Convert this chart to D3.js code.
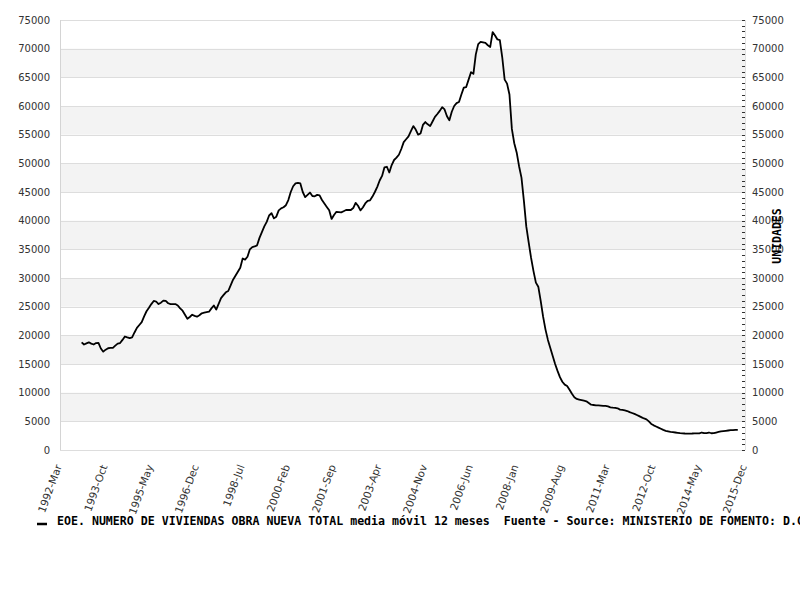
<!DOCTYPE html>
<html>
<head>
<meta charset="utf-8">
<script src="https://cdn.jsdelivr.net/npm/d3@7"></script>
<style>
  html, body { margin: 0; padding: 0; background: #fff; }
  svg { display: block; }
</style>
</head>
<body>
<svg id="chart" width="800" height="600"></svg>
<script>
// ---- data ----
const axisStart = "1992-03";   // first category on the x axis
const axisEnd = "2015-12";     // last category on the x axis
const seriesStart = "1992-12"; // first month with a value
const seriesName = "EOE. NUMERO DE VIVIENDAS OBRA NUEVA TOTAL media móvil 12 meses  Fuente - Source: MINISTERIO DE FOMENTO: D.G.";
const yAxisTitle = "UNIDADES";
const xTickLabels = ["1992-Mar","1993-Oct","1995-May","1996-Dec","1998-Jul","2000-Feb","2001-Sep","2003-Apr","2004-Nov","2006-Jun","2008-Jan","2009-Aug","2011-Mar","2012-Oct","2014-May","2015-Dec"];
const yTicks = [0,5000,10000,15000,20000,25000,30000,35000,40000,45000,50000,55000,60000,65000,70000,75000];
const values = [
  18780,18400,18600,18780,18550,18400,18650,18700,17700,17150,
  17500,17750,17800,17820,18200,18550,18650,19200,19800,19650,
  19530,19650,20500,21300,21800,22300,23300,24200,24800,25450,
  26000,25900,25450,25700,26050,26000,25600,25450,25450,25450,
  25200,24700,24300,23600,22900,23200,23600,23400,23250,23500,
  23850,23950,24050,24120,24700,25200,24500,25500,26500,27000,
  27500,27730,28700,29700,30400,31100,31800,33400,33200,33700,
  35000,35400,35500,35700,37000,38000,39000,39800,40900,41300,
  40400,40700,41800,42150,42350,42700,43600,45000,46000,46500,
  46600,46500,45000,44100,44500,44900,44300,44250,44500,44400,
  43600,43000,42400,41800,40300,41000,41550,41500,41450,41650,
  41860,41860,41860,42200,43100,42600,41800,42300,43000,43450,
  43550,44200,45000,45900,47000,47800,49300,49400,48400,49700,
  50580,51000,51500,52500,53700,54200,54700,55600,56500,55900,
  55000,55200,56700,57200,56800,56500,57300,58100,58600,59150,
  59800,59400,58200,57500,59000,60000,60500,60700,62000,63200,
  63300,64600,65900,65600,69000,70800,71200,71100,71000,70600,
  70300,72900,72300,71600,71500,68500,64600,63900,62000,56000,
  53500,51900,49500,47500,43500,39000,36200,33500,31200,29200,
  28480,26000,23250,21000,19200,17800,16400,15000,13800,12700,
  11900,11400,11160,10500,9800,9200,8900,8800,8700,8600,
  8500,8200,7900,7850,7800,7800,7750,7700,7680,7600,
  7450,7380,7350,7270,7050,7000,6900,6800,6600,6450,
  6300,6100,5900,5700,5500,5350,5000,4550,4300,4100,
  3900,3700,3500,3350,3250,3150,3100,3050,3000,2950,
  2910,2880,2870,2870,2880,2900,2900,2910,3050,2950,
  2950,3050,2920,2950,3050,3150,3250,3300,3350,3400,
  3450,3450,3500,3500
];

(function () {
// ---- layout ----
const mLeft = 60, mRight = 745, mTop = 20, mBottom = 450;
const svg = d3.select("#chart");
const parseMonth = d3.timeParse("%Y-%m");
const fmtCat = d3.timeFormat("%Y-%b");

const categories = d3.timeMonth.range(parseMonth(axisStart), d3.timeMonth.offset(parseMonth(axisEnd), 1)).map(fmtCat);
const s0 = parseMonth(seriesStart);
const points = values.map((v, i) => ({ cat: fmtCat(d3.timeMonth.offset(s0, i)), v }));

const x = d3.scalePoint().domain(categories).range([mLeft, mRight]);
const y = d3.scaleLinear().domain([0, 75000]).range([mBottom, mTop]);

// bands
const bandPairs = d3.pairs(yTicks).filter((p, i) => i % 2 === 1);
svg.append("g").selectAll("rect").data(bandPairs).join("rect")
  .attr("x", mLeft).attr("width", mRight - mLeft)
  .attr("y", d => y(d[1])).attr("height", d => y(d[0]) - y(d[1]))
  .attr("fill", "#f3f3f3");

// grid lines
svg.append("g").selectAll("line").data(yTicks).join("line")
  .attr("x1", mLeft).attr("x2", mRight)
  .attr("y1", d => Math.round(y(d)) + 0.5).attr("y2", d => Math.round(y(d)) + 0.5)
  .attr("stroke", "#dddddd").attr("stroke-width", 1);

// frame
svg.append("line").attr("x1", mLeft + 0.5).attr("x2", mLeft + 0.5).attr("y1", mTop).attr("y2", mBottom)
  .attr("stroke", "#d4d4d4");
svg.append("line").attr("x1", mRight + 0.5).attr("x2", mRight + 0.5).attr("y1", mTop).attr("y2", mBottom)
  .attr("stroke", "#e2e2e2");

// left axis labels
const leftAxis = d3.axisLeft(y).tickValues(yTicks).tickSize(0).tickPadding(10).tickFormat(d3.format("d"));
const gl = svg.append("g").attr("transform", `translate(${mLeft},0)`).call(leftAxis);
gl.select(".domain").remove();
gl.selectAll("text").attr("fill", "#333").style("font-family", "DejaVu Sans").style("font-size", "10px");

// right axis: major + minor ticks pointing inward
const minor = d3.range(0, 75001, 1000);
svg.append("g").selectAll("line").data(minor).join("line")
  .attr("x1", mRight - 3).attr("x2", mRight)
  .attr("y1", d => Math.round(y(d)) + 0.5).attr("y2", d => Math.round(y(d)) + 0.5)
  .attr("stroke", "#333").attr("stroke-width", 1);
const rightAxis = d3.axisRight(y).tickValues(yTicks).tickSize(0).tickPadding(7).tickFormat(d3.format("d"));
const gr = svg.append("g").attr("transform", `translate(${mRight},0)`).call(rightAxis);
gr.select(".domain").remove();
gr.selectAll("text").attr("fill", "#333").style("font-family", "DejaVu Sans").style("font-size", "10px");

// x axis labels
const xAxis = d3.axisBottom(x).tickValues(xTickLabels).tickSize(0).tickPadding(0);
const gx = svg.append("g").attr("transform", `translate(0,${mBottom})`).call(xAxis);
gx.select(".domain").remove();
gx.selectAll("text")
  .attr("fill", "#333").style("font-family", "DejaVu Sans").style("font-size", "10.5px")
  .attr("text-anchor", "end").attr("dy", "0.35em")
  .attr("transform", "translate(-2,15) rotate(-70)")
  .attr("y", 0).attr("x", 0);

// line
const line = d3.line().x(d => x(d.cat)).y(d => y(d.v));
svg.append("path").datum(points)
  .attr("d", line).attr("fill", "none").attr("stroke", "#000").attr("stroke-width", 1.8)
  .attr("stroke-linejoin", "round");

// y axis title
svg.append("text").attr("transform", "translate(781,236) rotate(-90)")
  .attr("text-anchor", "middle")
  .style("font-family", "DejaVu Sans Mono").style("font-weight", "bold").style("font-size", "11.5px")
  .attr("fill", "#000").text(yAxisTitle);

// legend
svg.append("line").attr("x1", 37).attr("x2", 47).attr("y1", 524).attr("y2", 524)
  .attr("stroke", "#000").attr("stroke-width", 2.5);
svg.append("text").attr("x", 57).attr("y", 525)
  .attr("xml:space", "preserve").style("white-space", "pre")
  .style("font-family", "DejaVu Sans Mono").style("font-weight", "bold").style("font-size", "11.6px")
  .attr("fill", "#000").text(seriesName);
})();
</script>
</body>
</html>
